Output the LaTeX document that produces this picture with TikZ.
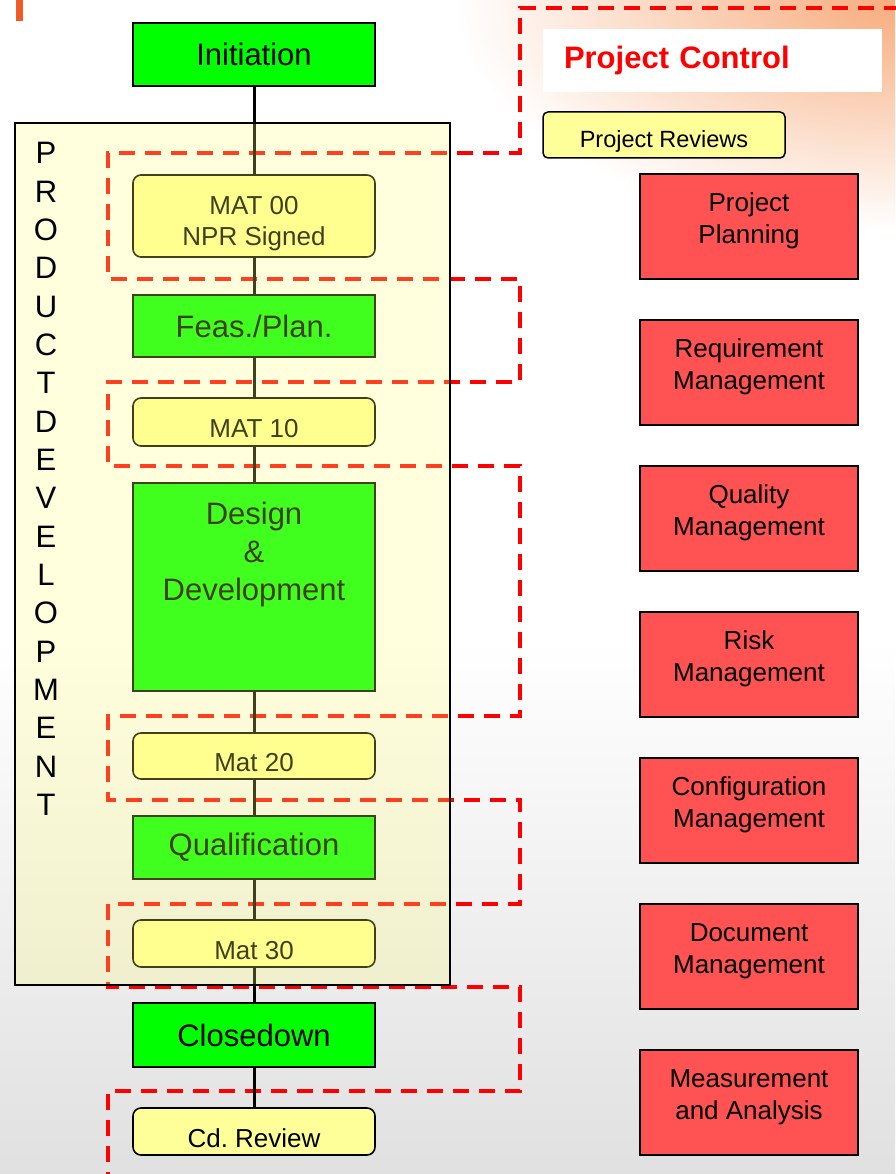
\documentclass[tikz,border=0pt]{standalone}
\usepackage{fontspec}
\setmainfont{Liberation Sans}
\usetikzlibrary{positioning}
\usetikzlibrary{shapes}

\begin{document}
\begin{tikzpicture}[x=1pt,y=-1pt,
    phase/.style={draw=black, line width=1.6pt, fill=phasegreen, minimum width=242pt, minimum height=63pt, inner sep=0pt, font=\fontsize{31}{38}\selectfont},
    review/.style={draw=black, line width=1.6pt, fill=revyellow, rounded corners=8pt, minimum width=242pt, minimum height=47pt, inner sep=0pt, align=center, text height=31pt, text depth=0pt, font=\fontsize{26}{31}\selectfont},
    mgmt/.style={draw=black, line width=1.8pt, fill=mgmtred, minimum width=218pt, minimum height=105pt, inner sep=0pt, align=center, text depth=16pt, font=\fontsize{26}{32}\selectfont},
    link/.style={line width=3pt},
    ctrlline/.style={draw=ctrlred, line width=4pt, dash pattern=on 16pt off 10pt}
  ]
\definecolor{phasegreen}{RGB}{0,255,0}
\definecolor{revyellow}{RGB}{255,255,153}
\definecolor{mgmtred}{RGB}{255,82,82}
\definecolor{pdyellow}{RGB}{255,255,120}
\definecolor{ctrlred}{RGB}{255,0,0}
\definecolor{barorange}{RGB}{240,90,40}
\definecolor{peach}{RGB}{247,172,125}

\useasboundingbox (0,0) rectangle (895,1174);
\fill[white] (0,0) rectangle (895,1174);
\shade[top color=white, bottom color=black!12] (0,640) rectangle (895,1174);
\begin{scope}
\clip (0,0) rectangle (895,1174);
\shade[inner color=peach, outer color=white] (895,0) ellipse [x radius=440pt, y radius=230pt];
\end{scope}
\fill[barorange] (16,0) rectangle (23,21);

% project control side
\node[fill=white, minimum width=339pt, minimum height=63pt, text width=297pt, inner xsep=21pt, align=left, text=ctrlred, font=\bfseries\fontsize{31}{37}\selectfont] (ctrl) at (712.5,60.5) {Project Control};
\node[draw=black, line width=1.5pt, fill=revyellow, rounded corners=5pt, minimum width=242pt, minimum height=46pt, inner sep=0pt, text height=25pt, text depth=0pt, font=\fontsize{23.5}{28}\selectfont] (rev) at (664,135) {Project Reviews};

\node[mgmt] (plan) at (749,226.5) {Project\\Planning};
\node[mgmt] (req) at (749,372.5) {Requirement\\Management};
\node[mgmt] (qm) at (749,518.5) {Quality\\Management};
\node[mgmt] (risk) at (749,664.5) {Risk\\Management};
\node[mgmt] (conf) at (749,810.5) {Configuration\\Management};
\node[mgmt] (doc) at (749,956.5) {Document\\Management};
\node[mgmt] (meas) at (749,1102.5) {Measurement\\and Analysis};

% review regions
\draw[ctrlline] (900,8) -- (520,8) -- (520,153) -- (108,153) -- (108,279) -- (520,279) -- (520,382) -- (108,382) -- (108,466) -- (520,466) -- (520,716) -- (108,716) -- (108,800) -- (520,800) -- (520,904) -- (108,904) -- (108,987) -- (520,987) -- (520,1091) -- (108,1091) -- (108,1180);

% phases and reviews
\node[phase] (init) at (254,54.5) {Initiation};
\node[review, minimum height=82pt, text height=58pt] (mat00) at (254,216) {MAT 00\\NPR Signed};
\node[phase, minimum height=62pt] (feas) at (254,326) {Feas./Plan.};
\node[review, minimum height=48pt] (mat10) at (254,422) {MAT 10};
\node[phase, minimum height=208pt] (dd) at (254,587) {};
\node[below=16pt of dd.north, align=center, font=\fontsize{31}{38}\selectfont] (ddtext) {Design\\\&\\Development};
\node[review, minimum height=46pt] (mat20) at (254,756) {Mat 20};
\node[phase] (qual) at (254,847.5) {Qualification};
\node[review] (mat30) at (254,943.5) {Mat 30};
\node[phase, minimum height=64pt] (close) at (254,1035) {Closedown};
\node[review] (cdrev) at (254,1131.5) {Cd.\ Review};

\draw[link] (init) -- (mat00) -- (feas) -- (mat10) -- (dd) -- (mat20) -- (qual) -- (mat30) -- (close) -- (cdrev);

% product development box
\node[draw=black, line width=1.6pt, fill=pdyellow, fill opacity=0.25, draw opacity=1, minimum width=435pt, minimum height=862pt] (pd) at (232.5,554) {};
\node[align=center, inner sep=0pt, font=\fontsize{31}{38.35}\selectfont] (pdlabel) at (46,479) {P\\R\\O\\D\\U\\C\\T\\D\\E\\V\\E\\L\\O\\P\\M\\E\\N\\T};

\end{tikzpicture}
\end{document}
